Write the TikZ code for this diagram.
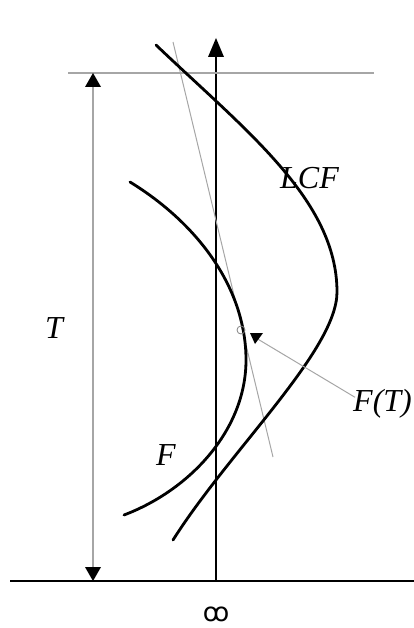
\documentclass[tikz,border=0pt]{standalone}
\usepackage{fontspec}
\setmainfont{Liberation Serif}
\newfontfamily\symfont{DejaVu Sans}
\begin{document}
\begin{tikzpicture}[x=1pt,y=-1pt,
  curve/.style={line width=2.8pt,line cap=round},
  axisline/.style={line width=2.8pt},
  guide/.style={gray!70,line width=1.2pt},
  lbl/.style={font=\fontsize{32}{36}\selectfont\itshape,inner sep=0pt}]
\useasboundingbox (0,0) rectangle (414,628);
% axes
\draw[axisline] (10,581) -- (414,581);
\draw[axisline] (216,581) -- (216,55);
\fill (216,38) -- (224,57) -- (208,57) -- cycle;
% top guide line
\draw[guide] (68,73) -- (374,73);
% T dimension
\draw[guide] (93,86) -- (93,569);
\fill (93,73) -- (101,87) -- (85,87) -- cycle;
\fill (93,581) -- (101,567) -- (85,567) -- cycle;
% tangent line
\draw[guide,line width=1pt] (173,42) -- (273,457);
% LCF curve
\draw[curve] (156,45) .. controls (245,130) and (337,200) .. (337,292)
                      .. controls (337,350) and (230,450) .. (173,540);
% F curve
\draw[curve] (130,182) .. controls (200,225) and (246,290) .. (246,360)
                       .. controls (246,430) and (190,490) .. (124,515);
% tangent point
\node[draw=gray,line width=0.8pt,circle,minimum size=8pt,inner sep=0pt] (tp) at (241,330) {};
% labels
\node[lbl] (T) at (54,328) {T};
\node[lbl,anchor=west] (LCF) at (280,178) {LCF};
\node[lbl] (F) at (166,455) {F};
\node[lbl,anchor=west] (FT) at (353,404) {F(T)};
\node[inner sep=0pt,font=\symfont\fontsize{26}{28}\selectfont] (inf) at (216,614) {ꝏ};
\coordinate (tip) at (256,338);
\draw[guide,line width=1pt] (FT.north west) ++(2,8) coordinate (fs) (fs) -- (tip);
\fill (250,333) -- (263,333) -- (255,344) -- cycle;
\end{tikzpicture}
\end{document}
